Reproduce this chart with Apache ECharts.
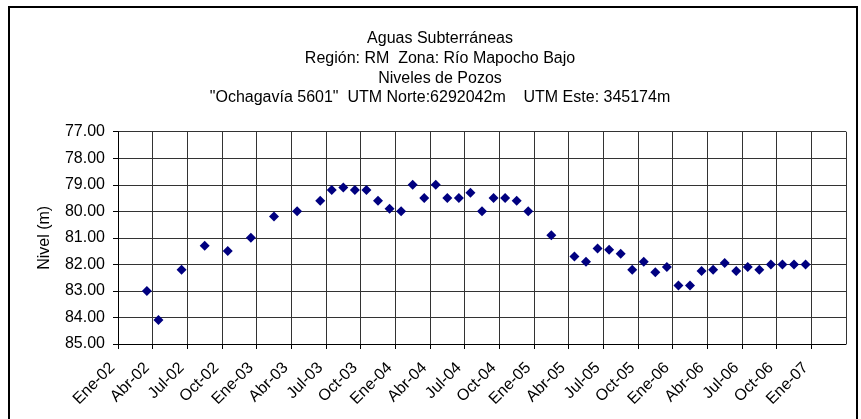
<!DOCTYPE html>
<html>
<head>
<meta charset="utf-8">
<script src="https://cdn.jsdelivr.net/npm/echarts@6/dist/echarts.min.js"></script>
<style>
  html, body { margin: 0; padding: 0; background: #fff; }
  #chart { width: 861px; height: 419px; }
</style>
</head>
<body>
<div id="chart"></div>
<script>
// Sampling dates (year-month) of the well readings
const sampleDates = [
  '2002-03', '2002-04', '2002-06', '2002-08', '2002-10', '2002-12',
  '2003-02', '2003-04', '2003-06', '2003-07', '2003-08', '2003-09', '2003-10', '2003-11', '2003-12',
  '2004-01', '2004-02', '2004-03', '2004-04', '2004-05', '2004-06', '2004-07', '2004-08', '2004-09', '2004-10', '2004-11', '2004-12',
  '2005-02', '2005-04', '2005-05', '2005-06', '2005-07', '2005-08', '2005-09', '2005-10', '2005-11', '2005-12',
  '2006-01', '2006-02', '2006-03', '2006-04', '2006-05', '2006-06', '2006-07', '2006-08', '2006-09', '2006-10', '2006-11', '2006-12'
];

// Water level (m) for each reading
const levels = [
  83.0, 84.1, 82.2, 81.3, 81.5, 81.0,
  80.2, 80.0, 79.6, 79.2, 79.1, 79.2, 79.2, 79.6, 79.9,
  80.0, 79.0, 79.5, 79.0, 79.5, 79.5, 79.3, 80.0, 79.5, 79.5, 79.6, 80.0,
  80.9, 81.7, 81.9, 81.4, 81.45, 81.6, 82.2, 81.9, 82.3, 82.1,
  82.8, 82.8, 82.25, 82.2, 81.95, 82.25, 82.1, 82.2, 82.0, 82.0, 82.0, 82.0
];

// Quarter tick names (Spanish month abbreviations)
const quarterNames = ['Ene', 'Abr', 'Jul', 'Oct'];
const startYear = 2002;

const titleLines = [
  'Aguas Subterráneas',
  'Región: RM  Zona: Río Mapocho Bajo',
  'Niveles de Pozos',
  '"Ochagavía 5601"  UTM Norte:6292042m    UTM Este: 345174m'
];

// Month index counted from Jan 2002, mid-month
function monthIndex(ym) {
  const [y, m] = ym.split('-').map(Number);
  return (y - startYear) * 12 + (m - 1) + 0.5;
}

const points = sampleDates.map((d, i) => [monthIndex(d), levels[i]]);

const FONT = "'Liberation Sans', Arial, sans-serif";
const chart = echarts.init(document.getElementById('chart'));

chart.setOption({
  animation: false,
  backgroundColor: '#fff',
  title: {
    text: titleLines.join('\n'),
    left: 440,
    top: 29,
    padding: 0,
    textAlign: 'center',
    textStyle: {
      fontFamily: FONT,
      fontSize: 16,
      fontWeight: 'normal',
      color: '#000',
      lineHeight: 19.7
    }
  },
  graphic: [{
    type: 'rect',
    shape: { x: 9, y: 7, width: 848, height: 430 },
    style: { fill: 'none', stroke: '#000', lineWidth: 2 },
    silent: true,
    z: 100
  }],
  grid: {
    left: 118,
    right: 15,
    top: 131.7,
    bottom: 75,
    containLabel: false
  },
  xAxis: {
    type: 'value',
    min: 0,
    max: 63,
    interval: 3,
    axisLine: { show: true, lineStyle: { color: '#000', width: 1 } },
    axisTick: { show: true, length: 5, lineStyle: { color: '#000' } },
    splitLine: { show: true, lineStyle: { color: '#333', width: 1 } },
    axisLabel: {
      rotate: 45,
      margin: 27,
      align: 'right',
      verticalAlign: 'bottom',
      fontFamily: FONT,
      fontSize: 16,
      color: '#000',
      showMaxLabel: false,
      formatter: function (v) {
        if (v >= 63) return '';
        const q = Math.round(v / 3);
        const yr = startYear + Math.floor(q / 4);
        return quarterNames[q % 4] + '-' + String(yr % 100).padStart(2, '0');
      }
    }
  },
  yAxis: {
    type: 'value',
    inverse: true,
    min: 77,
    max: 85,
    interval: 1,
    name: 'Nivel (m)',
    nameLocation: 'middle',
    nameGap: 65,
    nameRotate: 90,
    nameTextStyle: { fontFamily: FONT, fontSize: 16, color: '#000' },
    axisLine: { show: true, lineStyle: { color: '#000', width: 1 } },
    axisTick: { show: true, length: 5, lineStyle: { color: '#000' } },
    splitLine: { show: true, lineStyle: { color: '#333', width: 1 } },
    axisLabel: {
      margin: 13,
      fontFamily: FONT,
      fontSize: 16,
      color: '#000',
      formatter: v => v.toFixed(2)
    }
  },
  series: [{
    type: 'scatter',
    data: points,
    symbol: 'diamond',
    symbolSize: 10,
    itemStyle: { color: '#000080', opacity: 1 }
  }]
});
</script>
</body>
</html>
